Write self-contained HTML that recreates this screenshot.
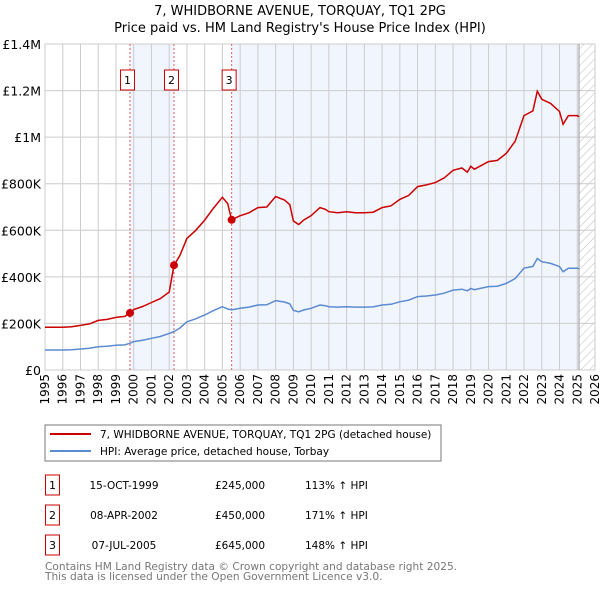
<!DOCTYPE html>
<html><head><meta charset="utf-8"><style>
body{margin:0;background:#fff;font-family:"DejaVu Sans","Liberation Sans",sans-serif;}
svg text{font-family:"DejaVu Sans","Liberation Sans",sans-serif;}
</style></head><body>
<svg id="c" width="600" height="590" xmlns="http://www.w3.org/2000/svg">
<defs><pattern id="hatch" width="6" height="6" patternUnits="userSpaceOnUse" patternTransform="rotate(45)"><line x1="0" y1="0" x2="0" y2="6" stroke="#bbb" stroke-width="1"/></pattern></defs>
<text x="300" y="15" text-anchor="middle" font-size="13" fill="#000">7, WHIDBORNE AVENUE, TORQUAY, TQ1 2PG</text>
<text x="300" y="32" text-anchor="middle" font-size="13" fill="#000">Price paid vs. HM Land Registry's House Price Index (HPI)</text>
<g id="plot"></g>
<rect x="45" y="425" width="396" height="36" fill="#fff" stroke="#777"/>
<line x1="50" y1="434" x2="91" y2="434" stroke="#cc0000" stroke-width="2"/>
<text x="100" y="438" font-size="10.5">7, WHIDBORNE AVENUE, TORQUAY, TQ1 2PG (detached house)</text>
<line x1="50" y1="451" x2="91" y2="451" stroke="#5b8bd0" stroke-width="2"/>
<text x="100" y="455" font-size="10.5">HPI: Average price, detached house, Torbay</text>
<g id="table"></g>
<text x="45" y="570" font-size="10.6" fill="#777">Contains HM Land Registry data © Crown copyright and database right 2025.</text>
<text x="45" y="580" font-size="10.6" fill="#777">This data is licensed under the Open Government Licence v3.0.</text>
</svg>
<script>
const hpiDates=[1995,1995.5,1996,1996.5,1997,1997.5,1998,1998.5,1999,1999.5,1999.79,2000,2000.5,2001,2001.5,2002,2002.27,2002.6,2003,2003.5,2004,2004.5,2005,2005.3,2005.52,2006,2006.5,2007,2007.5,2008,2008.5,2008.8,2009,2009.3,2009.6,2010,2010.5,2010.8,2011,2011.5,2012,2012.5,2013,2013.5,2014,2014.5,2015,2015.5,2016,2016.5,2017,2017.5,2018,2018.5,2018.8,2019,2019.2,2019.5,2020,2020.5,2021,2021.5,2022,2022.5,2022.75,2023,2023.5,2024,2024.2,2024.5,2025,2025.1];
const hpiValues=[86,86,86,87,90,93,100,102,106,108,115,122,128,136,144,157,165,180,207,220,236,255,272,262,258,265,270,279,280,298,292,284,256,250,258,265,279,276,272,270,272,270,270,271,279,282,293,300,315,318,322,330,343,347,340,350,345,350,358,360,372,393,437,445,479,465,458,444,422,437,437,435];
const saleLabels=["1","2","3"];
const saleDates=[1999.79,2002.27,2005.52];
const salePrices=[245000,450000,645000];
const saleDateText=["15-OCT-1999","08-APR-2002","07-JUL-2005"];
const salePriceText=["£245,000","£450,000","£645,000"];
const salePctText=["113% ↑ HPI","171% ↑ HPI","148% ↑ HPI"];
const yTicks=[0,200000,400000,600000,800000,1000000,1200000,1400000];
const yTickLabels=["£0","£200K","£400K","£600K","£800K","£1M","£1.2M","£1.4M"];
const xTicks=[1995,1996,1997,1998,1999,2000,2001,2002,2003,2004,2005,2006,2007,2008,2009,2010,2011,2012,2013,2014,2015,2016,2017,2018,2019,2020,2021,2022,2023,2024,2025,2026];

const X0=45,X1=595,Y0=370,Y1=44;
const sx=v=>X0+(v-1995)/(2026-1995)*(X1-X0);
const sy=v=>Y0-v/1400000*(Y0-Y1);
const NS="http://www.w3.org/2000/svg";
const plot=document.getElementById('plot');
function mk(tag,attrs,parent){const e=document.createElementNS(NS,tag);for(const k in attrs)e.setAttribute(k,attrs[k]);(parent||plot).appendChild(e);return e;}
function hpiAt(d){for(let i=1;i<hpiDates.length;i++){if(d<=hpiDates[i]){const t=(d-hpiDates[i-1])/(hpiDates[i]-hpiDates[i-1]);return hpiValues[i-1]+t*(hpiValues[i]-hpiValues[i-1]);}}return hpiValues[hpiValues.length-1];}
let e=mk('rect',{x:X0,y:Y1,width:X1-X0,height:Y0-Y1,fill:'#fff'});


e=mk('rect',{x:sx(saleDates[0]),y:Y1,width:sx(saleDates[1])-sx(saleDates[0]),height:Y0-Y1,fill:'#eef3fc',opacity:0.8});


const endD=2025.1;
e=mk('rect',{x:sx(saleDates[2]),y:Y1,width:sx(endD)-sx(saleDates[2]),height:Y0-Y1,fill:'#eef3fc',opacity:0.8});


e=mk('rect',{x:sx(endD),y:Y1,width:X1-sx(endD),height:Y0-Y1,fill:'url(#hatch)'});


xTicks.forEach((t,i)=>{
  const g=mk('line',{x1:sx(t),x2:sx(t),y1:Y1,y2:Y0,stroke:'#ccc','stroke-width':1});
  
  
  const tx=mk('text',{x:0,y:0,'font-size':12,'text-anchor':'end',transform:`translate(${sx(t)+4},374) rotate(-90)`});
  tx.textContent=t;
  
  
});
yTicks.forEach((t,i)=>{
  const g=mk('line',{x1:X0,x2:X1,y1:sy(t),y2:sy(t),stroke:'#ccc','stroke-width':1});
  
  
  const tx=mk('text',{x:41,y:sy(t)+5,'font-size':12.5,'text-anchor':'end'});
  tx.textContent=yTickLabels[i];
  
  
});
e=mk('rect',{x:X0,y:Y1,width:X1-X0,height:Y0-Y1,fill:'none',stroke:'#ccc'});


e=mk('line',{x1:sx(endD),x2:sx(endD),y1:Y1,y2:Y0,stroke:'#999','stroke-width':1});


saleDates.forEach((d,i)=>{
  const l=mk('line',{x1:sx(d),x2:sx(d),y1:Y1,y2:Y0,stroke:'#e06060','stroke-width':1,'stroke-dasharray':'2,2'});
  
  
  const r=mk('rect',{x:sx(d)-9.5,y:70,width:14,height:20,fill:'#fff',stroke:'#cc0000'});
  
  
  const t=mk('text',{x:sx(d)-2.5,y:84,'font-size':11,'text-anchor':'middle'});
  t.textContent=saleLabels[i];
  
  
});
let hp='',rp='';
hpiDates.forEach((d,i)=>{
  hp+=(i?'L':'M')+sx(d).toFixed(1)+','+sy(hpiValues[i]*1000).toFixed(1);
  let k=0;for(let j=0;j<saleDates.length;j++)if(d>=saleDates[j]-1e-6)k=j;
  const f=salePrices[k]/(hpiAt(saleDates[k])*1000);
  rp+=(i?'L':'M')+sx(d).toFixed(1)+','+sy(hpiValues[i]*1000*f).toFixed(1);
  if(i+1<hpiDates.length){for(let j=0;j<saleDates.length;j++){if(saleDates[j]>d&&saleDates[j]<hpiDates[i+1]){const v=hpiAt(saleDates[j]-0.01)*1000*f;rp+='L'+sx(saleDates[j]).toFixed(1)+','+sy(v).toFixed(1);}}}
});
e=mk('path',{d:hp,fill:'none',stroke:'#5b8bd0','stroke-width':1.5});


e=mk('path',{d:rp,fill:'none',stroke:'#cc0000','stroke-width':1.5});


saleDates.forEach((d,i)=>{
  const c=mk('circle',{cx:sx(d),cy:sy(salePrices[i]),r:4,fill:'#cc0000'});
  
  
});
const tb=document.getElementById('table');
saleDates.forEach((d,i)=>{
  const y=485+i*30;
  const r=mk('rect',{x:45.5,y:y-10,width:14,height:20,fill:'#fff',stroke:'#cc0000'},tb);
  
  
  const a=mk('text',{x:52.5,y:y+4,'font-size':11,'text-anchor':'middle'},tb);a.textContent=saleLabels[i];
  
  
  const b=mk('text',{x:124,y:y+4,'font-size':10.5,'text-anchor':'middle'},tb);b.textContent=saleDateText[i];
  
  
  const c=mk('text',{x:240,y:y+4,'font-size':10.5,'text-anchor':'middle'},tb);c.textContent=salePriceText[i];
  
  
  const p=mk('text',{x:305,y:y+4,'font-size':10.5},tb);p.textContent=salePctText[i];
  
  
});
</script>
</body></html>
